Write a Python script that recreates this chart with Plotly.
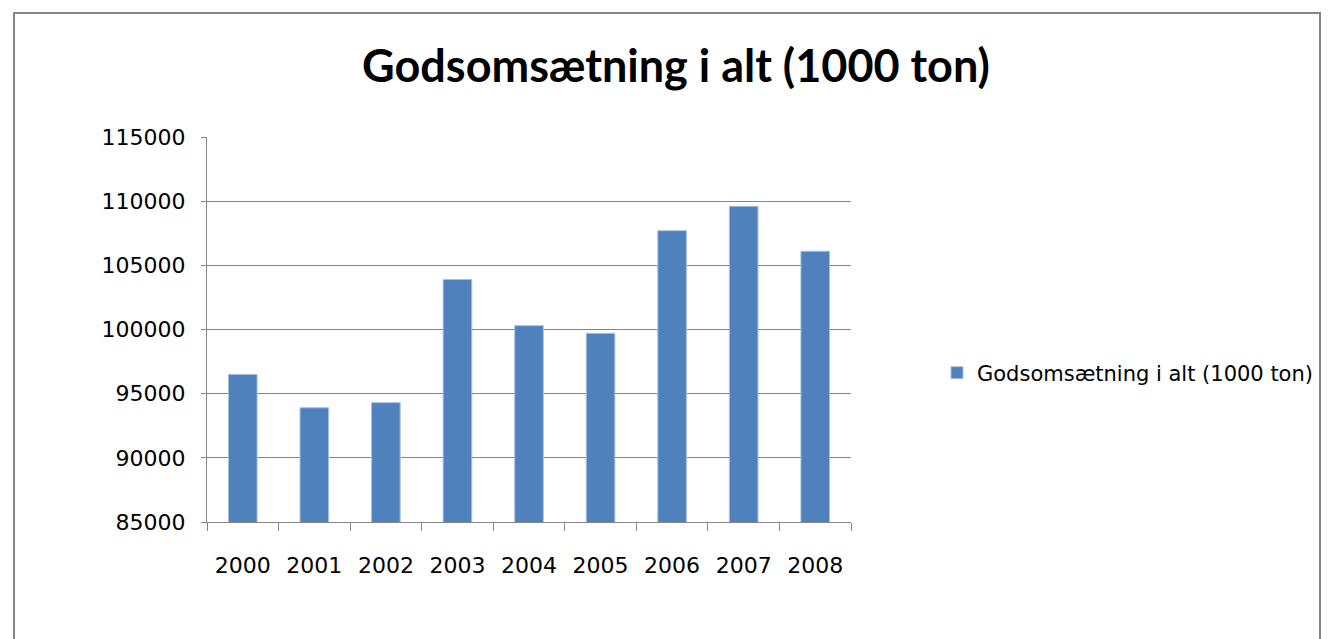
import plotly.graph_objects as go

years = ["2000", "2001", "2002", "2003", "2004", "2005", "2006", "2007", "2008"]
values = [96500, 93900, 94300, 103900, 100300, 99700, 107700, 109600, 106100]
series_name = "Godsomsætning i alt (1000 ton)"
title_text = "Godsomsætning i alt (1000 ton)"
y_ticks = [85000, 90000, 95000, 100000, 105000, 110000, 115000]

W, H = 1333, 639
L, R, T, B = 207, 851, 137, 522
pw, ph = R - L, B - T

def px(x):
    return (x - L) / pw

def py(y):
    return (B - y) / ph

fig = go.Figure()
fig.add_trace(go.Bar(
    x=years, y=values, name=series_name,
    marker=dict(color="#4F81BD", line=dict(color="#a9c0e0", width=1)),
    showlegend=True,
))

font_family = "DejaVu Sans"

fig.update_layout(
    width=W, height=H,
    margin=dict(l=L, r=W - R, t=T, b=H - B, pad=0),
    paper_bgcolor="white", plot_bgcolor="white",
    bargap=0.6,
    title=dict(text="<b>" + title_text + "</b>", x=676 / W, xanchor="center",
               y=1 - 66 / H, yanchor="middle", xref="container", yref="container",
               font=dict(family="Lato", size=45, color="#000000")),
    showlegend=True,
    legend=dict(x=px(937), y=py(373), xanchor="left", yanchor="middle",
                font=dict(family=font_family, size=21, color="#000000"),
                bgcolor="rgba(0,0,0,0)", itemwidth=30),
    xaxis=dict(type="category", showgrid=False, showline=True, linecolor="#868686", linewidth=1,
               ticks="outside", tickson="boundaries", ticklen=8, tickcolor="#868686",
               tickfont=dict(family=font_family, size=22, color="#000000"),
               ticklabelstandoff=24),
    yaxis=dict(range=[85000, 115000], tickvals=y_ticks, ticktext=[str(v) for v in y_ticks],
               showgrid=True, gridcolor="#868686", gridwidth=1,
               showline=True, linecolor="#868686", linewidth=1,
               ticks="outside", ticklen=5, tickcolor="#868686",
               tickfont=dict(family=font_family, size=22, color="#000000"),
               ticklabelstandoff=11, zeroline=False),
)

fig.add_shape(type="rect", xref="paper", yref="paper",
              x0=px(14), x1=px(1320), y0=py(13), y1=py(660),
              line=dict(color="#868686", width=2), fillcolor="rgba(0,0,0,0)", layer="below")

fig.write_html("out.html", config={"displayModeBar": False},
               post_script="document.body.style.margin='0';")
